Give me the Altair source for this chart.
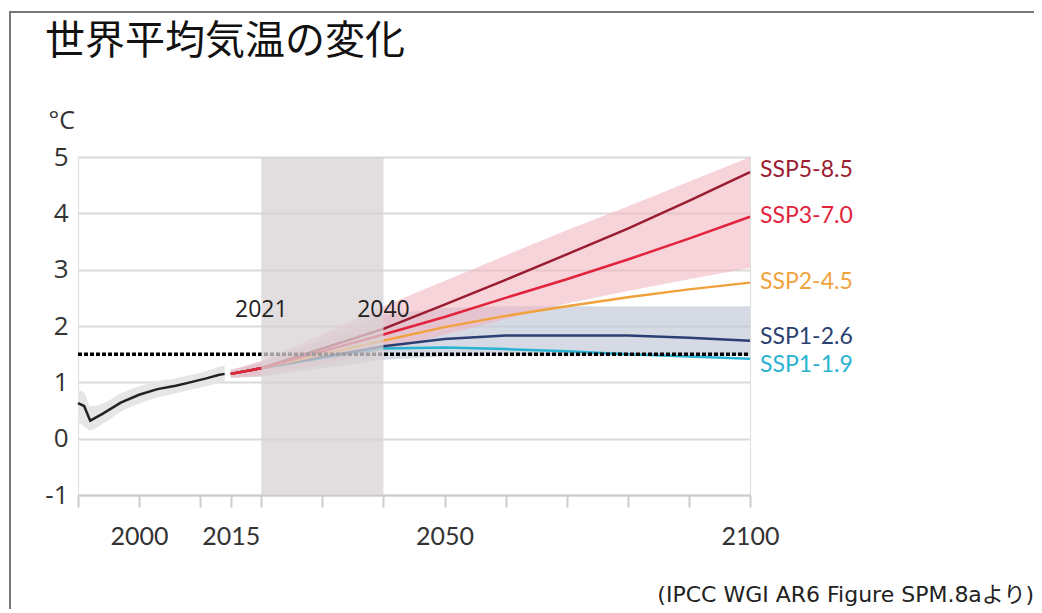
import altair as alt
import pandas as pd

# ---------------- data ----------------
hist_years = [1990, 1991, 1992, 1994, 1997, 2000, 2003, 2006, 2008, 2011, 2013, 2014]
hist_vals = [0.63, 0.58, 0.32, 0.44, 0.64, 0.78, 0.88, 0.94, 0.99, 1.07, 1.13, 1.15]
hist_lo = [0.30, 0.22, 0.15, 0.26, 0.48, 0.62, 0.73, 0.80, 0.86, 0.93, 0.99, 1.01]
hist_hi = [0.86, 0.82, 0.58, 0.62, 0.80, 0.93, 1.02, 1.07, 1.12, 1.20, 1.27, 1.30]

scen_years = [2015, 2020, 2030, 2040, 2050, 2060, 2070, 2080, 2090, 2100]
ssp119 = [1.15, 1.25, 1.43, 1.60, 1.62, 1.59, 1.55, 1.50, 1.46, 1.42]
ssp126 = [1.15, 1.25, 1.45, 1.64, 1.77, 1.83, 1.83, 1.83, 1.79, 1.74]
ssp245 = [1.15, 1.25, 1.50, 1.74, 1.98, 2.18, 2.35, 2.51, 2.65, 2.77]
ssp370 = [1.15, 1.25, 1.55, 1.85, 2.16, 2.50, 2.83, 3.18, 3.55, 3.94]
ssp585 = [1.15, 1.25, 1.60, 1.95, 2.38, 2.82, 3.27, 3.73, 4.22, 4.73]

pink_lo = [1.08, 1.12, 1.32, 1.55, 1.85, 2.12, 2.40, 2.62, 2.83, 3.03]
pink_hi = [1.22, 1.38, 1.85, 2.35, 2.80, 3.25, 3.70, 4.12, 4.56, 5.00]
blue_lo = [1.08, 1.10, 1.25, 1.40, 1.46, 1.47, 1.47, 1.47, 1.47, 1.47]
blue_hi = [1.22, 1.35, 1.75, 2.20, 2.32, 2.35, 2.35, 2.35, 2.35, 2.35]

scenario_names = ["SSP1-1.9", "SSP1-2.6", "SSP2-4.5", "SSP5-8.5", "SSP3-7.0"]
scenario_series = [ssp119, ssp126, ssp245, ssp585, ssp370]
scenario_colors = ["#29b3d3", "#2b3f72", "#f0a23c", "#9a1c30", "#e2233c"]
label_y = [1.30, 1.80, 2.78, 4.77, 3.95]

band_years = [2020, 2040]
band_labels = ["2021", "2040"]
band_label_y = 2.28

limit_level = 1.5
x_domain = [1990, 2100]
y_domain = [-1, 5]
x_ticks = [1990, 2000, 2010, 2015, 2020, 2030, 2040, 2050, 2060, 2070, 2080, 2090, 2100]
x_labels = [2000, 2015, 2050, 2100]
y_ticks = [-1, 0, 1, 2, 3, 4, 5]

title_text = "世界平均気温の変化"
source_text = "(IPCC WGI AR6 Figure SPM.8aより)"

W, H = 672, 338

# ---------------- scales / axes ----------------
label_test = " || ".join(f"datum.value == {v}" for v in x_labels)
x_axis = alt.Axis(values=x_ticks, labelExpr=f"({label_test}) ? datum.label : ''",
                  format="d", grid=False, domainColor="#cccccc", domainWidth=2,
                  tickColor="#cccccc", tickWidth=2, tickSize=12,
                  labelFont="Lato", labelFontSize=25, labelColor="#333333",
                  labelPadding=17, labelOverlap=False, labelFlush=False, title=None)
y_axis = alt.Axis(values=y_ticks, labelExpr="'' + datum.value", grid=True,
                  gridColor="#d9d9d9", gridWidth=2,
                  domain=False, ticks=False, labelFont="Open Sans", labelFontSize=26,
                  labelColor="#333333", labelPadding=10,
                  title="°C", titleAngle=0, titleX=-30, titleY=-37, titleAlign="left",
                  titleBaseline="middle", titleFont="Open Sans", titleFontSize=25,
                  titleFontWeight="normal", titleColor="#333333")
xs = alt.Scale(domain=x_domain, nice=False, zero=False)
ys = alt.Scale(domain=y_domain, nice=False, zero=False)


def X(f):
    return alt.X(f, type="quantitative", scale=xs, axis=x_axis)


def Y(f):
    return alt.Y(f, type="quantitative", scale=ys, axis=y_axis)


hist_df = pd.DataFrame({"year": hist_years, "value": hist_vals, "lo": hist_lo, "hi": hist_hi})
env_df = pd.DataFrame({"year": scen_years, "plo": pink_lo, "phi": pink_hi,
                       "blo": blue_lo, "bhi": blue_hi})

layers = []
layers.append(alt.Chart(hist_df).mark_area(color="#e6e6e6", interpolate="monotone").encode(
    x=X("year"), y=Y("lo"), y2="hi"))
layers.append(alt.Chart(env_df).mark_area(color="#c3cbd9", opacity=0.7).encode(
    x=X("year"), y=Y("blo"), y2="bhi"))
layers.append(alt.Chart(env_df).mark_area(color="#f2b6c1", opacity=0.6).encode(
    x=X("year"), y=Y("plo"), y2="phi"))
layers.append(alt.Chart(hist_df).mark_line(color="#222222", strokeWidth=2.5).encode(
    x=X("year"), y=Y("value")))

for name, vals, col in zip(scenario_names, scenario_series, scenario_colors):
    df = pd.DataFrame({"year": scen_years, "value": vals})
    layers.append(alt.Chart(df).mark_line(color=col, strokeWidth=2.5).encode(
        x=X("year"), y=Y("value")))

limit_df = pd.DataFrame({"year": [x_domain[0]], "year2": [x_domain[1]], "value": [limit_level]})
layers.append(alt.Chart(limit_df).mark_rule(color="#000000", strokeWidth=3.5,
                                            strokeDash=[4, 2]).encode(
    x=X("year"), x2="year2", y=Y("value")))

band_df = pd.DataFrame({"year": [band_years[0]], "year2": [band_years[1]],
                        "lo": [y_domain[0]], "hi": [y_domain[1]]})
layers.append(alt.Chart(band_df).mark_rect(color="#d8d2d4", opacity=0.75).encode(
    x=X("year"), x2="year2", y=Y("lo"), y2="hi"))

blab_df = pd.DataFrame({"year": band_years, "value": [band_label_y] * 2, "t": band_labels})
layers.append(alt.Chart(blab_df).mark_text(font="Open Sans", fontSize=23, color="#222222",
                                           align="center", baseline="middle").encode(
    x=X("year"), y=Y("value"), text="t:N"))

lab_df = pd.DataFrame({"year": [x_domain[1]] * len(scenario_names), "value": label_y,
                       "name": scenario_names})
layers.append(alt.Chart(lab_df).mark_text(font="Lato", fontSize=23, align="left",
                                          baseline="middle", dx=10).encode(
    x=X("year"), y=Y("value"), text="name:N",
    color=alt.Color("name:N", scale=alt.Scale(domain=scenario_names, range=scenario_colors),
                    legend=None)))

one = pd.DataFrame({"t": [title_text], "s": [source_text]})
layers.append(alt.Chart(one).mark_text(font="Noto Sans CJK JP", fontSize=40, color="#111111",
                                       align="left", baseline="middle").encode(
    x=alt.value(-33), y=alt.value(-115), text="t:N"))
layers.append(alt.Chart(one).mark_text(font="DejaVu Sans, Noto Sans CJK JP", fontSize=22,
                                       color="#222222", align="right",
                                       baseline="middle").encode(
    x=alt.value(956), y=alt.value(438), text="s:N"))
# frame lines of the slide
layers.append(alt.Chart(one).mark_rule(color="#777777", strokeWidth=2).encode(
    x=alt.value(-68), y=alt.value(-145), y2=alt.value(H + 130)))
layers.append(alt.Chart(one).mark_rule(color="#777777", strokeWidth=2).encode(
    x=alt.value(-69), x2=alt.value(W + 300), y=alt.value(-145)))

chart = alt.layer(*layers).properties(
    width=W, height=H,
    autosize=alt.AutoSizeParams(type="none"),
    padding={"left": 70, "top": 149, "right": 284, "bottom": 114},
).configure_view(stroke=None).configure(background="white")

chart.save("out.html", embed_options={"renderer": "svg", "actions": False})
